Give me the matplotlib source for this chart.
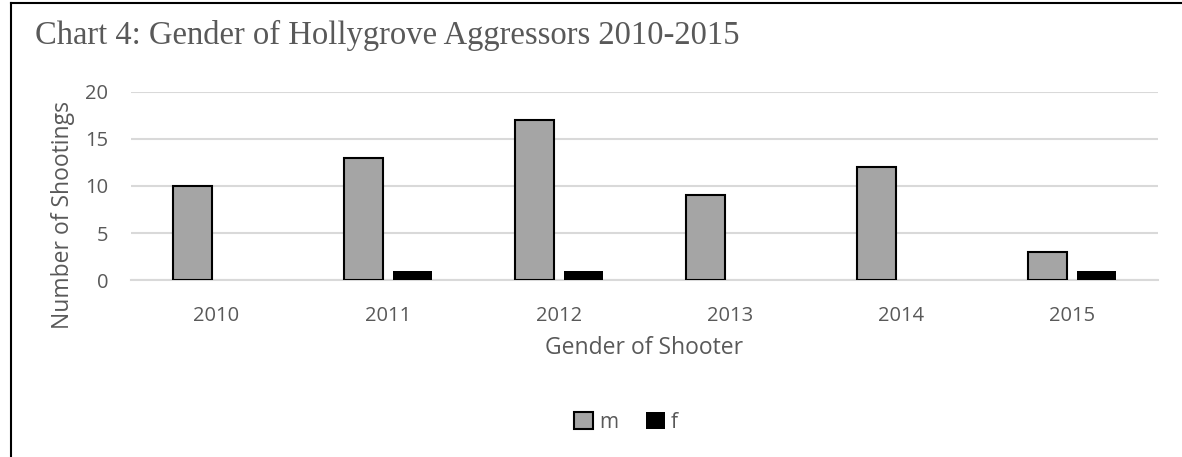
import matplotlib.pyplot as plt
from matplotlib.lines import Line2D
import numpy as np

years = ["2010", "2011", "2012", "2013", "2014", "2015"]
male = [10, 13, 17, 9, 12, 3]
female = [0, 1, 1, 0, 0, 1]

TXT = "#595959"
GRID = "#D9D9D9"
SANS = ["Open Sans", "DejaVu Sans"]

fig = plt.figure(figsize=(11.82, 4.57), dpi=100)
ax = fig.add_axes([0.1108, 0.3873, 0.8689, 0.4114])

x = np.arange(len(years))
w = 0.228
off = 0.143
ax.bar(x - off, male, w, color="#A5A5A5", edgecolor="black", linewidth=1.5,
       label="m", zorder=3)
ax.bar(x + off, female, w, color="black", linewidth=0, label="f", zorder=3)

ax.set_xlim(-0.5, len(years) - 0.5)
ax.set_ylim(0, 20)
ax.set_yticks([0, 5, 10, 15, 20])
ax.set_xticks(x)
ax.set_xticklabels(years)
ax.grid(axis="y", color=GRID, lw=1.5, zorder=0)
for s in ["top", "right", "left"]:
    ax.spines[s].set_visible(False)
ax.spines["bottom"].set_color(GRID)
ax.spines["bottom"].set_linewidth(1.5)
ax.tick_params(length=0, labelsize=14.5, labelcolor=TXT)
ax.tick_params(axis="x", pad=19)
ax.tick_params(axis="y", pad=16.5)
for lab in ax.get_xticklabels() + ax.get_yticklabels():
    lab.set_family(SANS)

ax.set_xlabel("Gender of Shooter", fontsize=16.5, color=TXT, family=SANS, va="center")
ax.xaxis.set_label_coords(0.5, -0.36)
ax.set_ylabel("Number of Shootings", fontsize=16.5, color=TXT, family=SANS, va="center")
ax.yaxis.set_label_coords(-0.066, 0.346)

fig.text(35 / 1182, 1 - 35 / 457, "Chart 4: Gender of Hollygrove Aggressors 2010-2015",
         fontsize=23.5, color=TXT, family="Liberation Serif", va="center", ha="left")

leg = fig.legend(loc="center", bbox_to_anchor=(626 / 1182, 1 - 422 / 457), ncol=2,
                 frameon=False, handlelength=0.9, handleheight=0.9,
                 handletextpad=0.3, columnspacing=1.35,
                 prop={"family": SANS, "size": 15})
for t in leg.get_texts():
    t.set_color(TXT)

# frame lines along the top and left edge
fig.add_artist(Line2D([11 / 1182, 1], [1 - 3 / 457, 1 - 3 / 457], color="black", lw=1.5))
fig.add_artist(Line2D([11 / 1182, 11 / 1182], [0, 1 - 3 / 457], color="black", lw=1.5))

fig.savefig("out.png", dpi=100)
